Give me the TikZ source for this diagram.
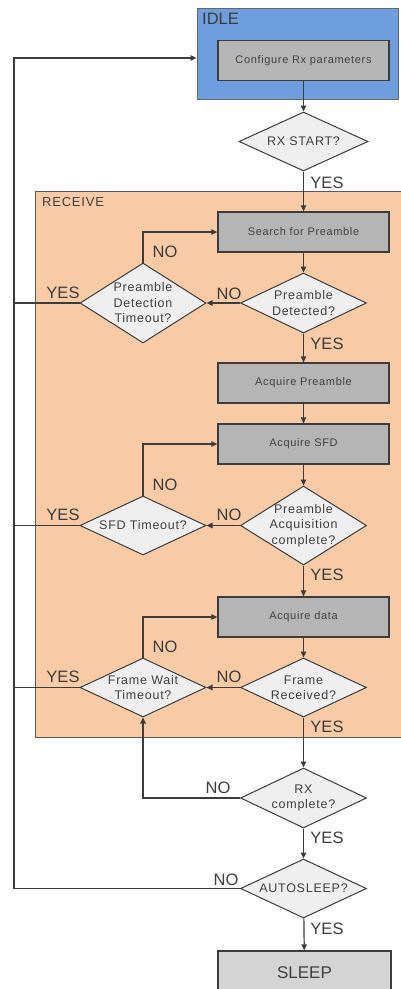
\documentclass[tikz,border=0pt]{standalone}
\usepackage{fontspec}
\setmainfont{Liberation Sans}
\newfontfamily\spacedfont[LetterSpace=6]{Liberation Sans}
\usetikzlibrary{shapes.geometric,arrows.meta}
\definecolor{idleblue}{HTML}{6E9EDD}
\definecolor{recpeach}{HTML}{F8CBA6}
\definecolor{boxgray}{HTML}{B5B5B5}
\definecolor{sleepgray}{HTML}{D4D4D4}
\definecolor{diafill}{HTML}{EFEFEF}
\definecolor{linec}{HTML}{3C3C3C}
\definecolor{textc}{HTML}{404040}
\begin{document}
\begin{tikzpicture}[x=1pt,y=-1pt,
  stepbox/.style={draw=linec,line width=1.3pt,fill=boxgray,minimum width=171pt,minimum height=40pt,inner sep=0pt,text=textc,font=\spacedfont\fontsize{11}{13}\selectfont},
  dia/.style={draw=linec,line width=1pt,fill=diafill,shape=diamond,inner sep=0pt,minimum width=126pt,minimum height=59pt},
  dtext/.style={text=textc,align=center,font=\spacedfont\fontsize{12.5}{15.5}\selectfont},
  lbl/.style={text=linec,font=\fontsize{16.5}{18}\selectfont,inner sep=0pt},
  conn/.style={draw=linec,line width=1.2pt,-{Triangle[length=6pt,width=5.5pt]}},
  plain/.style={draw=linec,line width=1.2pt}]
\useasboundingbox (0,0) rectangle (400,989);
% containers
\node[draw=gray!80!black,line width=1pt,fill=idleblue,minimum width=201pt,minimum height=91pt,inner sep=0pt] (idle) at (297.5,53.5) {};
\node[anchor=west,text=linec,font=\fontsize{16.5}{18}\selectfont,inner sep=0pt] (idlet) at (202,19) {IDLE};
\node[draw=gray!70!black,line width=1pt,fill=recpeach,minimum width=367pt,minimum height=546pt,inner sep=0pt] (rec) at (218.5,464) {};
\node[anchor=west,text=textc,font=\spacedfont\fontsize{13}{15}\selectfont,inner sep=0pt] (rect) at (42,202) {RECEIVE};
% boxes
\node[stepbox] (cfg) at (303.5,60.5) {Configure Rx parameters};
\node[stepbox] (srch) at (303.5,232) {Search for Preamble};
\node[stepbox] (ap) at (303.5,383) {Acquire Preamble};
\node[stepbox] (asfd) at (303.5,444) {Acquire SFD};
\node[stepbox] (ad) at (303.5,617) {Acquire data};
\node[stepbox,fill=sleepgray,minimum width=173pt,minimum height=40pt] (sleep) at (304.5,971) {};
\node[text=textc,font=\fontsize{17}{19}\selectfont,inner sep=0pt] (sleept) at (304.5,973) {SLEEP};
% diamonds
\node[dia,minimum width=129pt] (rxs) at (303.5,141.5) {};
\node[dtext] at (rxs) {RX START?};
\node[dia,minimum height=60pt] (pd) at (303.5,303) {};
\node[dtext] at (pd) {Preamble\\Detected?};
\node[dia,minimum height=80pt] (pdt) at (143,303) {};
\node[dtext] at (pdt) {Preamble\\Detection\\Timeout?};
\node[dia,minimum height=79pt] (pac) at (303.5,525.5) {};
\node[dtext] at (pac) {Preamble\\Acquisition\\complete?};
\node[dia] (sfdt) at (143,525.5) {};
\node[dtext] at (sfdt) {SFD Timeout?};
\node[dia] (fr) at (303.5,687.5) {};
\node[dtext] at (fr) {Frame\\Received?};
\node[dia] (fwt) at (143,687.5) {};
\node[dtext] at (fwt) {Frame Wait\\Timeout?};
\node[dia,minimum height=60pt] (rxc) at (303.5,798) {};
\node[dtext] at (rxc) {RX\\complete?};
\node[dia] (as) at (303.5,888.5) {};
\node[dtext] at (as) {AUTOSLEEP?};
% left rail
\coordinate (lt) at (14,58);
\coordinate (lb) at (14,888.5);
% connectors
\draw[conn] (cfg) -- (rxs);
\draw[conn] (rxs) -- (srch);
\draw[conn] (srch) -- (pd);
\draw[conn] (pd) -- (pdt);
\draw[conn] (pdt.north) |- (srch.west);
\draw[conn] (pd) -- (ap);
\draw[conn] (ap) -- (asfd);
\draw[conn] (asfd) -- (pac);
\draw[conn] (pac) -- (sfdt);
\draw[conn] (sfdt.north) |- (asfd.west);
\draw[conn] (pac) -- (ad);
\draw[conn] (ad) -- (fr);
\draw[conn] (fr) -- (fwt);
\draw[conn] (fwt.north) |- (ad.west);
\draw[conn] (fr) -- (rxc);
\draw[conn] (rxc.west) -| (fwt.south);
\draw[conn] (rxc) -- (as);
\draw[conn] (as) -- (sleep);
\draw[conn] (as.west) -- (lb) -- (lt) -- (lt -| idle.west);
\draw[plain] (pdt.west) -- (pdt.west -| lt);
\draw[plain] (sfdt.west) -- (sfdt.west -| lt);
\draw[plain] (fwt.west) -- (fwt.west -| lt);
% labels
\node[lbl] (l1) at (327,183) {YES};
\node[lbl] (l2) at (165,252) {NO};
\node[lbl] (l3) at (229,294) {NO};
\node[lbl] (l4) at (63,293) {YES};
\node[lbl] (l5) at (327,344) {YES};
\node[lbl] (l6) at (165,485) {NO};
\node[lbl] (l7) at (229,515) {NO};
\node[lbl] (l8) at (63,515) {YES};
\node[lbl] (l9) at (327,575) {YES};
\node[lbl] (l10) at (165,647) {NO};
\node[lbl] (l11) at (229,677) {NO};
\node[lbl] (l12) at (63,677) {YES};
\node[lbl] (l13) at (327,727) {YES};
\node[lbl] (l14) at (218,788) {NO};
\node[lbl] (l15) at (327,838) {YES};
\node[lbl] (l16) at (226,880) {NO};
\node[lbl] (l17) at (327,929) {YES};
\end{tikzpicture}
\end{document}
